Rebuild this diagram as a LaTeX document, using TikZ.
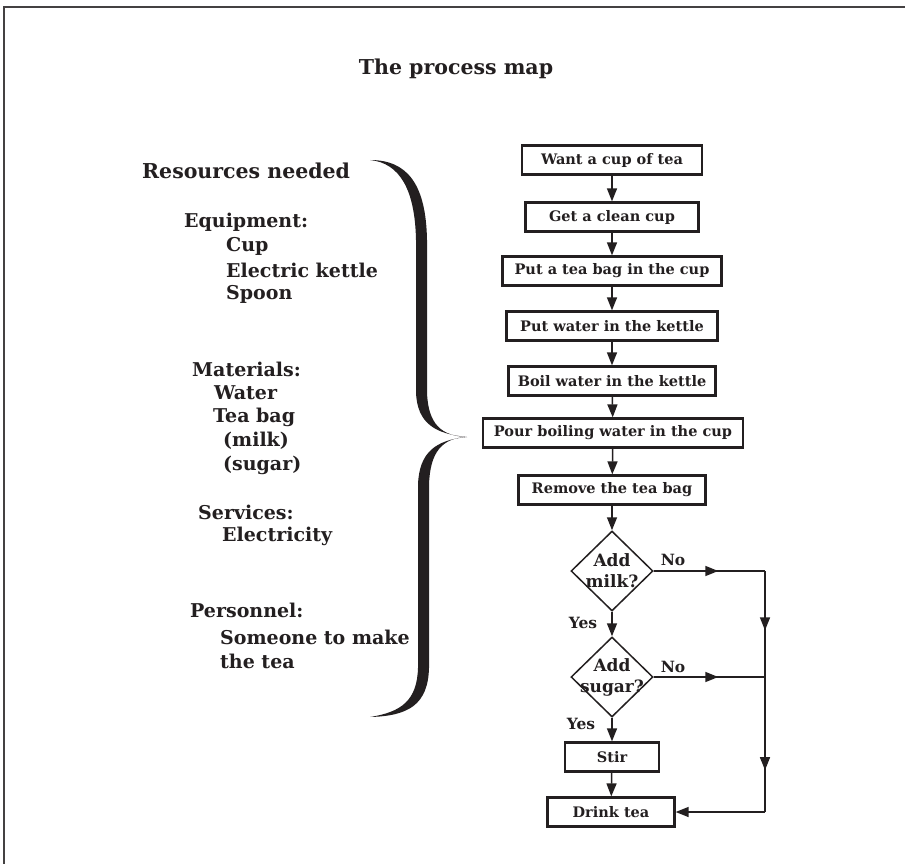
\documentclass[tikz,border=0pt]{standalone}
\usepackage{fontspec}
\setmainfont{DejaVu Serif}
\usetikzlibrary{arrows.meta,shapes.geometric,decorations.markings}
\definecolor{ink}{HTML}{231F20}

\begin{document}
\begin{tikzpicture}[x=1pt,y=-1pt,
  every node/.style={text=ink},
  font=\bfseries\fontsize{14.5}{17}\selectfont,
  stepbox/.style={draw=ink, line width=2.3pt, minimum height=29pt, inner sep=0pt, align=center},
  decision/.style={draw=ink, diamond, line width=1.5pt, minimum width=82pt, minimum height=80pt, inner sep=0pt},
  flow/.style={draw=ink, line width=1.5pt, -{Triangle[length=13pt,width=10pt]}},
  line/.style={draw=ink, line width=1.5pt},
  midarrow/.style={postaction={decorate}, decoration={markings,
      mark=at position #1 with {\arrow{Triangle[length=13pt,width=10pt]}}}},
  res/.style={anchor=west, inner sep=0pt, font=\bfseries\fontsize{19}{22}\selectfont},
  tag/.style={inner sep=0pt, font=\bfseries\fontsize{15.5}{18}\selectfont},
  qtext/.style={inner sep=0pt, align=center, font=\bfseries\fontsize{17}{21}\selectfont}
]
\useasboundingbox (0,0) rectangle (905,864);
\fill[white] (0,0) rectangle (905,864);

% frame edges
\draw[ink!85, line width=2pt] (4,864) -- (4,7) -- (905,7);

% title
\node[font=\bfseries\fontsize{20.5}{24}\selectfont] (title) at (456,69) {The process map};

% resources column
\node[res, font=\bfseries\fontsize{20.5}{24}\selectfont] (rn) at (142,171) {Resources needed};
\node[res] (eq) at (184,222) {Equipment:};
\node[res] (e1) at (226,246) {Cup};
\node[res] (e2) at (226,270) {Electric kettle};
\node[res] (e3) at (226,294) {Spoon};
\node[res] (ma) at (192,369) {Materials:};
\node[res] (m1) at (214,393) {Water};
\node[res] (m2) at (213,417) {Tea bag};
\node[res] (m3) at (223,441) {(milk)};
\node[res] (m4) at (223,465) {(sugar)};
\node[res] (se) at (198,512) {Services:};
\node[res] (s1) at (222,536) {Electricity};
\node[res] (pe) at (190,610) {Personnel:};
\node[res] (p1) at (220,637) {Someone to make};
\node[res] (p2) at (220,661) {the tea};

% curly brace
\fill[ink] (370,160)
  .. controls (408,160) and (426,185) .. (427,240) -- (427,392)
  .. controls (428,425) and (442,436) .. (467,437)
  .. controls (442,438) and (430,452) .. (429,485) -- (429,668)
  .. controls (428,705) and (408,716) .. (370,717)
  .. controls (402,712) and (417,700) .. (418,668) -- (418,485)
  .. controls (419,452) and (436,440) .. (467,437)
  .. controls (436,434) and (417,424) .. (416,392) -- (416,240)
  .. controls (415,190) and (400,163) .. (370,160) -- cycle;

% process steps
\node[stepbox, minimum width=180pt] (s1b) at (612,160) {Want a cup of tea};
\node[stepbox, minimum width=173pt] (s2b) at (612,217) {Get a clean cup};
\node[stepbox, minimum width=219pt] (s3b) at (612,271) {Put a tea bag in the cup};
\node[stepbox, minimum width=211pt] (s4b) at (612,326) {Put water in the kettle};
\node[stepbox, minimum width=207pt] (s5b) at (612,381) {Boil water in the kettle};
\node[stepbox, minimum width=260pt] (s6b) at (613,433) {Pour boiling water in the cup};
\node[stepbox, minimum width=187pt] (s7b) at (612,490) {Remove the tea bag};
\node[decision] (d1) at (612,571) {};
\node[qtext] (d1t) at (d1) {Add\\milk?};
\node[decision] (d2) at (612,677) {};
\node[qtext] (d2t) at (d2) {Add\\sugar?};
\node[stepbox, minimum width=94pt] (stir) at (612,757) {Stir};
\node[stepbox, minimum width=127pt] (drink) at (611,812) {Drink tea};

% branch labels
\node[tag] (no1) at (673,560) {No};
\node[tag] (no2) at (673,667) {No};
\node[tag] (yes1) at (583,623) {Yes};
\node[tag] (yes2) at (581,724) {Yes};

% rail on the right
\coordinate (j1) at (765,571);
\coordinate (j2) at (765,677);
\coordinate (j3) at (765,812);

% main flow
\draw[flow] (s1b) -- (s2b);
\draw[flow] (s2b) -- (s3b);
\draw[flow] (s3b) -- (s4b);
\draw[flow] (s4b) -- (s5b);
\draw[flow] (s5b) -- (s6b);
\draw[flow] (s6b) -- (s7b);
\draw[flow] (s7b) -- (d1.north);
\draw[flow] (d1.south) -- (d2.north);
\draw[flow] (d2.south) -- (stir);
\draw[flow] (stir) -- (drink);

% "No" branches
\draw[line, midarrow=0.58] (d1.east) -- (j1);
\draw[line, midarrow=0.58] (d2.east) -- (j2);
\draw[line, midarrow=0.56] (j1) -- (j2);
\draw[line, midarrow=0.69] (j2) -- (j3);
\draw[flow] (j3) -- (drink.east);
\end{tikzpicture}
\end{document}
